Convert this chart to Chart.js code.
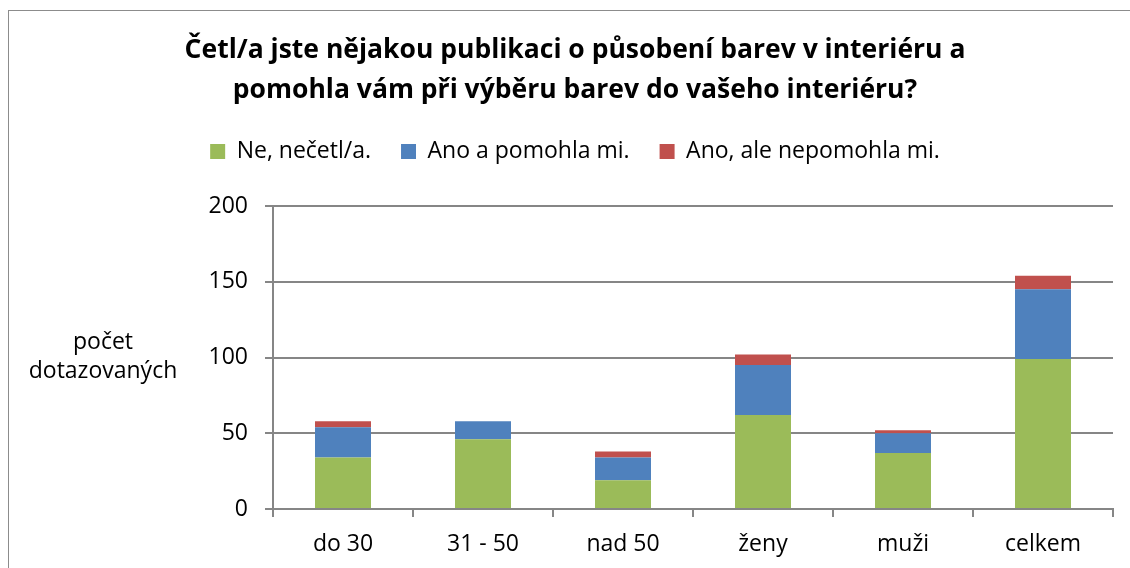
<!DOCTYPE html>
<html>
<head>
<meta charset="utf-8">
<script src="https://cdn.jsdelivr.net/npm/chart.js@4"></script>
<style>
  html, body { margin: 0; padding: 0; background: #fff; }
  #wrap { position: relative; width: 1130px; height: 568px; overflow: hidden; }
  #frame { position: absolute; left: 8px; top: 10px; width: 1200px; height: 600px; border: 1px solid #8c8c8c; box-sizing: border-box; }
  canvas { position: absolute; left: 0; top: 0; }
</style>
</head>
<body>
<div id="wrap">
  <div id="frame"></div>
  <canvas id="chart" width="1130" height="568"></canvas>
</div>
<script>
// kategorie a hodnoty (počet dotazovaných)
const categories = ['do 30', '31 - 50', 'nad 50', 'ženy', 'muži', 'celkem'];
const neCetl = [34, 46, 19, 62, 37, 99];
const anoPomohla = [20, 12, 15, 33, 13, 46];
const anoNepomohla = [4, 0, 4, 7, 2, 9];
const yTicks = [0, 50, 100, 150, 200];

const FONT = "'Open Sans', 'Noto Sans', sans-serif";
const GRID = '#868686';

// popis osy Y vodorovně vlevo od osy
const yTitlePlugin = {
  id: 'yTitle',
  afterDraw(chart) {
    const { ctx, chartArea } = chart;
    const cy = (chartArea.top + chartArea.bottom) / 2;
    ctx.save();
    ctx.fillStyle = '#000';
    ctx.font = `23px ${FONT}`;
    ctx.textAlign = 'center';
    ctx.textBaseline = 'middle';
    ctx.fillText('počet', 103, cy - 15);
    ctx.fillText('dotazovaných', 103, cy + 14);
    ctx.restore();
  },
};

// pevná výška legendy -> mezera mezi legendou a grafem
const legendHeightPlugin = {
  id: 'legendHeight',
  beforeInit(chart) {
    const fit = chart.legend.fit;
    chart.legend.fit = function () {
      fit.call(this);
      this.height = 96;
    };
  },
};

new Chart(document.getElementById('chart').getContext('2d'), {
  type: 'bar',
  data: {
    labels: categories,
    datasets: [
      { label: 'Ne, nečetl/a.', data: neCetl, backgroundColor: '#9BBB59' },
      { label: 'Ano a pomohla mi.', data: anoPomohla, backgroundColor: '#4F81BD' },
      { label: 'Ano, ale nepomohla mi.', data: anoNepomohla, backgroundColor: '#C0504D' },
    ],
  },
  options: {
    responsive: false,
    animation: false,
    layout: { padding: { left: 37, right: 17, top: 10, bottom: 0 } },
    datasets: { bar: { categoryPercentage: 1, barPercentage: 0.4 } },
    plugins: {
      title: {
        display: true,
        text: ['Četl/a jste nějakou publikaci o působení barev v interiéru a',
               'pomohla vám při výběru barev do vašeho interiéru?'],
        color: '#000',
        font: { family: FONT, size: 26.5, weight: 'bold', lineHeight: 40 / 26.5 },
        padding: { top: 20, bottom: 0 },
      },
      legend: {
        labels: {
          color: '#000',
          font: { family: FONT, size: 23 },
          boxWidth: 15,
          boxHeight: 15,
          padding: 30,
        },
      },
      tooltip: { enabled: false },
    },
    scales: {
      x: {
        stacked: true,
        grid: { drawOnChartArea: false, offset: true, color: GRID, lineWidth: 2, tickLength: 8 },
        border: { color: GRID, width: 2 },
        ticks: { color: '#000', font: { family: FONT, size: 23 }, padding: 14 },
        afterFit: (s) => { s.height = 59; },
      },
      y: {
        stacked: true,
        min: 0,
        max: 200,
        afterBuildTicks: (s) => { s.ticks = yTicks.map((v) => ({ value: v })); },
        grid: { color: GRID, lineWidth: 2, tickLength: 8 },
        border: { color: GRID, width: 2 },
        ticks: { color: '#000', font: { family: FONT, size: 23 }, padding: 17 },
        afterFit: (s) => { s.width = 236; },
      },
    },
  },
  plugins: [yTitlePlugin, legendHeightPlugin],
});
</script>
</body>
</html>
